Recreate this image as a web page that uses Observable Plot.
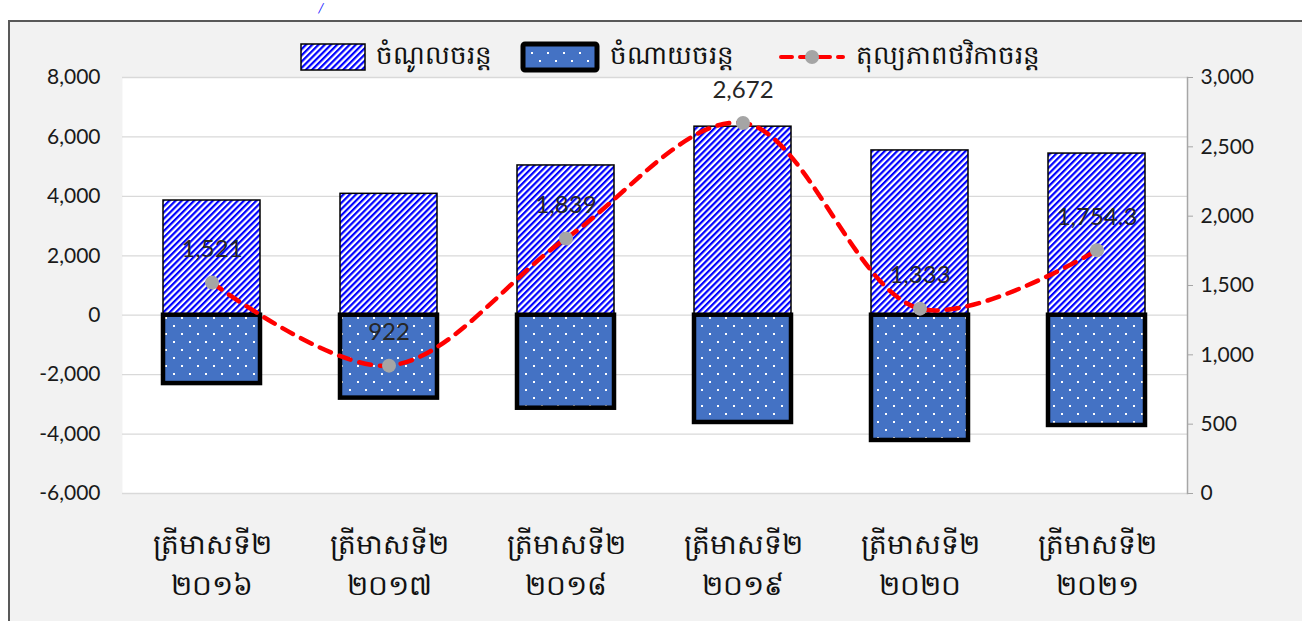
<!DOCTYPE html>
<html>
<head>
<meta charset="utf-8">
<script src="https://cdn.jsdelivr.net/npm/d3@7"></script>
<script src="https://cdn.jsdelivr.net/npm/@observablehq/plot@0.6"></script>
<style>
  html, body { margin: 0; padding: 0; background: #ffffff; overflow: hidden; }
  body { width: 1302px; height: 621px; position: relative; font-family: Lato, "Noto Sans", sans-serif; }
  #frame { position: absolute; left: 8px; top: 20px; width: 1310px; height: 620px;
           border-left: 2px solid #595959; border-top: 2px solid #595959; background: #f2f2f2; }
  #cut { position: absolute; left: 318px; top: 0px; color: #1f1fff; font-size: 14px; line-height: 15px; font-style: italic; }
  #legend { position: absolute; left: 0; top: 16px; width: 1320px; height: 38px; display: flex;
            justify-content: center; align-items: center; font-size: 26px; color: #111; }
  .item { display: flex; align-items: center; margin: 0 14px; }
  .item svg { margin-right: 10px; }
  #chart { position: absolute; left: 0; top: 44px; }
</style>
</head>
<body>
<div id="cut">/</div>
<div id="frame">
  <div id="legend"></div>
  <div id="chart"></div>
</div>
<script>
const categories = ["២០១៦", "២០១៧", "២០១៨", "២០១៩", "២០២០", "២០២១"];
const quarterLabel = "ត្រីមាសទី២";
const inflow = [3860, 4085, 5040, 6345, 5545, 5440];
const outflow = [-2300, -2790, -3130, -3610, -4215, -3710];
const balance = [1521, 922, 1839, 2672, 1333, 1754.3];
const balanceLabels = ["1,521", "922", "1,839", "2,672", "1,333", "1,754.3"];
const seriesNames = ["ចំណូលចរន្ត", "ចំណាយចរន្ត", "តុល្យភាពថវិកាចរន្ត"];
const leftTicks = [-6000, -4000, -2000, 0, 2000, 4000, 6000, 8000];
const rightTicks = [0, 500, 1000, 1500, 2000, 2500, 3000];

const leftDomain = [-6000, 8000];
const rightDomain = [0, 3000];
const toLeft = v => leftDomain[0] + (v - rightDomain[0]) * (leftDomain[1] - leftDomain[0]) / (rightDomain[1] - rightDomain[0]);
const toRight = v => rightDomain[0] + (v - leftDomain[0]) * (rightDomain[1] - rightDomain[0]) / (leftDomain[1] - leftDomain[0]);
const fmt = d => Math.round(d).toLocaleString("en-US");

const rows = categories.map((c, i) => ({
  cat: c, inflow: inflow[i], outflow: outflow[i],
  balance: balance[i], bl: toLeft(balance[i]), label: balanceLabels[i]
}));

const patternDefs = `
  <pattern id="diag" patternUnits="userSpaceOnUse" width="4.4" height="4.4" patternTransform="rotate(45)">
    <rect width="4.4" height="4.4" fill="#ffffff"/>
    <rect width="2.2" height="4.4" fill="#0000ff"/>
  </pattern>
  <pattern id="dots" patternUnits="userSpaceOnUse" width="16" height="16">
    <rect width="16" height="16" fill="#4472c4"/>
    <rect x="3" y="3" width="2" height="2" fill="#ffffff"/>
    <rect x="11" y="11" width="2" height="2" fill="#ffffff"/>
  </pattern>`;

// Legend
const legend = document.getElementById("legend");
legend.innerHTML = `
  <div class="item"><svg width="66" height="28"><defs>${patternDefs.replace(/id="/g, 'id="l1')}</defs>
    <rect x="1" y="1" width="64" height="26" fill="url(#l1diag)" stroke="#000" stroke-width="1.5"/></svg><span>${seriesNames[0]}</span></div>
  <div class="item"><svg width="80" height="32"><defs>${patternDefs.replace(/id="/g, 'id="l2')}</defs>
    <rect x="3" y="3" width="74" height="26" rx="2" fill="url(#l2dots)" stroke="#000" stroke-width="5"/></svg><span>${seriesNames[1]}</span></div>
  <div class="item" style="margin-left:30px"><svg width="68" height="20">
    <line x1="3" y1="10" x2="65" y2="10" stroke="#ff0000" stroke-width="4" stroke-dasharray="11,8" stroke-linecap="round"/>
    <circle cx="34" cy="10" r="7" fill="#a5a5a5"/></svg><span>${seriesNames[2]}</span></div>`;

const chart = Plot.plot({
  width: 1290,
  height: 557,
  marginLeft: 112,
  marginRight: 113,
  marginTop: 11,
  marginBottom: 130,
  style: { background: "transparent", fontFamily: "Lato, 'Noto Sans', sans-serif", overflow: "visible" },
  x: { domain: categories, paddingInner: 0.45, paddingOuter: 0.225, label: null },
  y: { domain: leftDomain, label: null },
  marks: [
    Plot.frame({ fill: "#ffffff", stroke: "none" }),
    Plot.gridY(leftTicks, { stroke: "#d9d9d9", strokeOpacity: 1, strokeWidth: 1.3 }),
    Plot.axisY(leftTicks, { anchor: "left", tickSize: 0, tickPadding: 22, fontSize: 21, fill: "#1a1a1a", tickFormat: fmt, label: null }),
    Plot.axisY(rightTicks.map(toLeft), { anchor: "right", tickSize: 5, tickPadding: 8, fontSize: 21, fill: "#1a1a1a", stroke: "#a6a6a6", tickFormat: d => fmt(toRight(d)), label: null }),
    Plot.frame({ anchor: "right", stroke: "#a6a6a6", strokeWidth: 1.5 }),
    Plot.axisX({ tickSize: 0, tickPadding: 32, fontSize: 28, fill: "#111", lineHeight: 1.45,
      tickFormat: d => quarterLabel + "\n" + d, label: null }),
    Plot.barY(rows, { x: "cat", y: "inflow", fill: "url(#diag)", stroke: "#000", strokeWidth: 1.5 }),
    Plot.barY(rows, { x: "cat", y: "outflow", fill: "url(#dots)", stroke: "#000", strokeWidth: 4.5 }),
    Plot.line(rows, { x: "cat", y: "bl", curve: "catmull-rom", stroke: "#ff0000", strokeWidth: 4.5, strokeDasharray: "12,9", strokeLinecap: "round" }),
    Plot.dot(rows, { x: "cat", y: "bl", r: 7, fill: "#a5a5a5", stroke: "none" }),
    Plot.text(rows, { x: "cat", y: "bl", text: "label", dy: -33, fontSize: 24, fill: "#262626" })
  ]
});

const defs = d3.select(chart).insert("defs", ":first-child");
defs.html(patternDefs);
document.getElementById("chart").appendChild(chart);
</script>
</body>
</html>
